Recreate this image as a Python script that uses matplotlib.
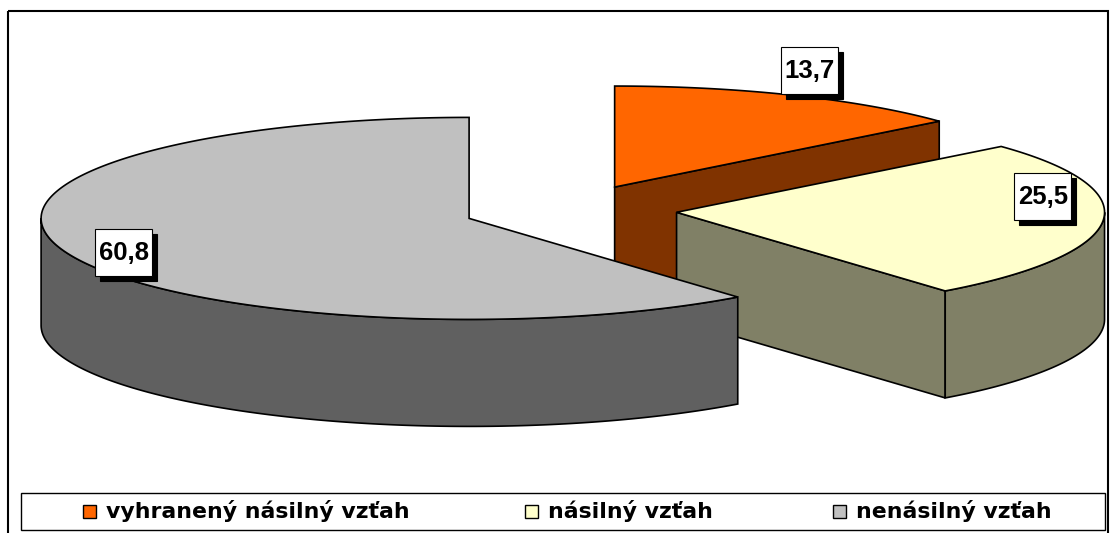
import numpy as np
import matplotlib
matplotlib.use("Agg")
import matplotlib.pyplot as plt
from matplotlib.patches import Polygon, Rectangle

# ---- data ----
categories = ["vyhranený násilný vzťah", "násilný vzťah", "nenásilný vzťah"]
values = [13.7, 25.5, 60.8]
top_colors = ["#FF6600", "#FFFFCC", "#C0C0C0"]
side_colors = ["#803300", "#808066", "#606060"]
value_labels = [f"{v:.1f}".replace(".", ",") for v in values]

# ---- layout (pixels) ----
W, H = 1111, 533
CX, CY = 570, 210
RX, RY = 428, 101
DEPTH = 107
EXPL = 0.25
label_offsets = [(16, -25), (-60, -25), (58, 0)]
BOX_W, BOX_H = 57, 47
legend_sq_x = [83, 525, 833]

fig = plt.figure(figsize=(W / 100, H / 100), dpi=100, facecolor="white")
ax = fig.add_axes([0, 0, 1, 1])
ax.set_xlim(0, W)
ax.set_ylim(H, 0)
ax.axis("off")

LW = 1.2


def pt(sx, sy, th):
    r = np.radians(th)
    return sx + RX * np.cos(r), sy - RY * np.sin(r)


total = sum(values)
slices = []
start = 90.0
for i, v in enumerate(values):
    a1 = start
    a2 = start - 360.0 * v / total
    start = a2
    mid = (a1 + a2) / 2
    sx = CX + EXPL * RX * np.cos(np.radians(mid))
    sy = CY - EXPL * RY * np.sin(np.radians(mid))
    slices.append((i, a1, a2, mid, sx, sy))

# draw back to front
order = sorted(slices, key=lambda s: s[5])
for (i, a1, a2, mid, sx, sy) in order:
    # radial faces
    for a, vis in ((a2, np.cos(np.radians(a2)) > 1e-6), (a1, np.cos(np.radians(a1)) < -1e-6)):
        if vis:
            px, py = pt(sx, sy, a)
            poly = [(sx, sy), (px, py), (px, py + DEPTH), (sx, sy + DEPTH)]
            ax.add_patch(Polygon(poly, closed=True, facecolor=side_colors[i],
                                 edgecolor="black", lw=LW))
    # outer side: front half where sin < 0
    for k in range(-2, 2):
        lo = max(a2, -180 + 360 * k)
        hi = min(a1, 0 + 360 * k)
        if hi - lo > 1e-6:
            th = np.linspace(lo, hi, 200)
            xs, ys = pt(sx, sy, th)
            poly = list(zip(xs, ys)) + list(zip(xs[::-1], ys[::-1] + DEPTH))
            ax.add_patch(Polygon(poly, closed=True, facecolor=side_colors[i],
                                 edgecolor="black", lw=LW))
    # top face
    th = np.linspace(a1, a2, 300)
    xs, ys = pt(sx, sy, th)
    poly = [(sx, sy)] + list(zip(xs, ys))
    ax.add_patch(Polygon(poly, closed=True, facecolor=top_colors[i],
                         edgecolor="black", lw=LW, joinstyle="miter"))

# value labels
for (i, a1, a2, mid, sx, sy) in slices:
    mx, my = pt(sx, sy, mid)
    lx = mx + label_offsets[i][0]
    ly = my + label_offsets[i][1]
    ax.add_patch(Rectangle((lx - BOX_W / 2 + 5, ly - BOX_H / 2 + 5), BOX_W, BOX_H,
                           facecolor="black", edgecolor="black", lw=0.8, zorder=5))
    ax.add_patch(Rectangle((lx - BOX_W / 2, ly - BOX_H / 2), BOX_W, BOX_H,
                           facecolor="white", edgecolor="black", lw=0.8, zorder=6))
    ax.text(lx, ly + 1, value_labels[i], ha="center", va="center",
            fontsize=18.5, fontweight="bold", family="Liberation Sans", zorder=7)

# outer frame
ax.add_patch(Rectangle((8, 11), 1100, 540, facecolor="none", edgecolor="black", lw=1.5))

# legend
ax.add_patch(Rectangle((21, 493), 1084, 37, facecolor="white", edgecolor="black", lw=1.0, zorder=8))
for i, name in enumerate(categories):
    x0 = legend_sq_x[i]
    ax.add_patch(Rectangle((x0, 504.5), 13, 13, facecolor=top_colors[i],
                           edgecolor="black", lw=1.0, zorder=9))
    ax.text(x0 + 23, 511.5, name, ha="left", va="center", fontsize=15.8,
            fontweight="bold", family="DejaVu Sans", zorder=9)

fig.savefig("out.png", dpi=100, facecolor="white")
